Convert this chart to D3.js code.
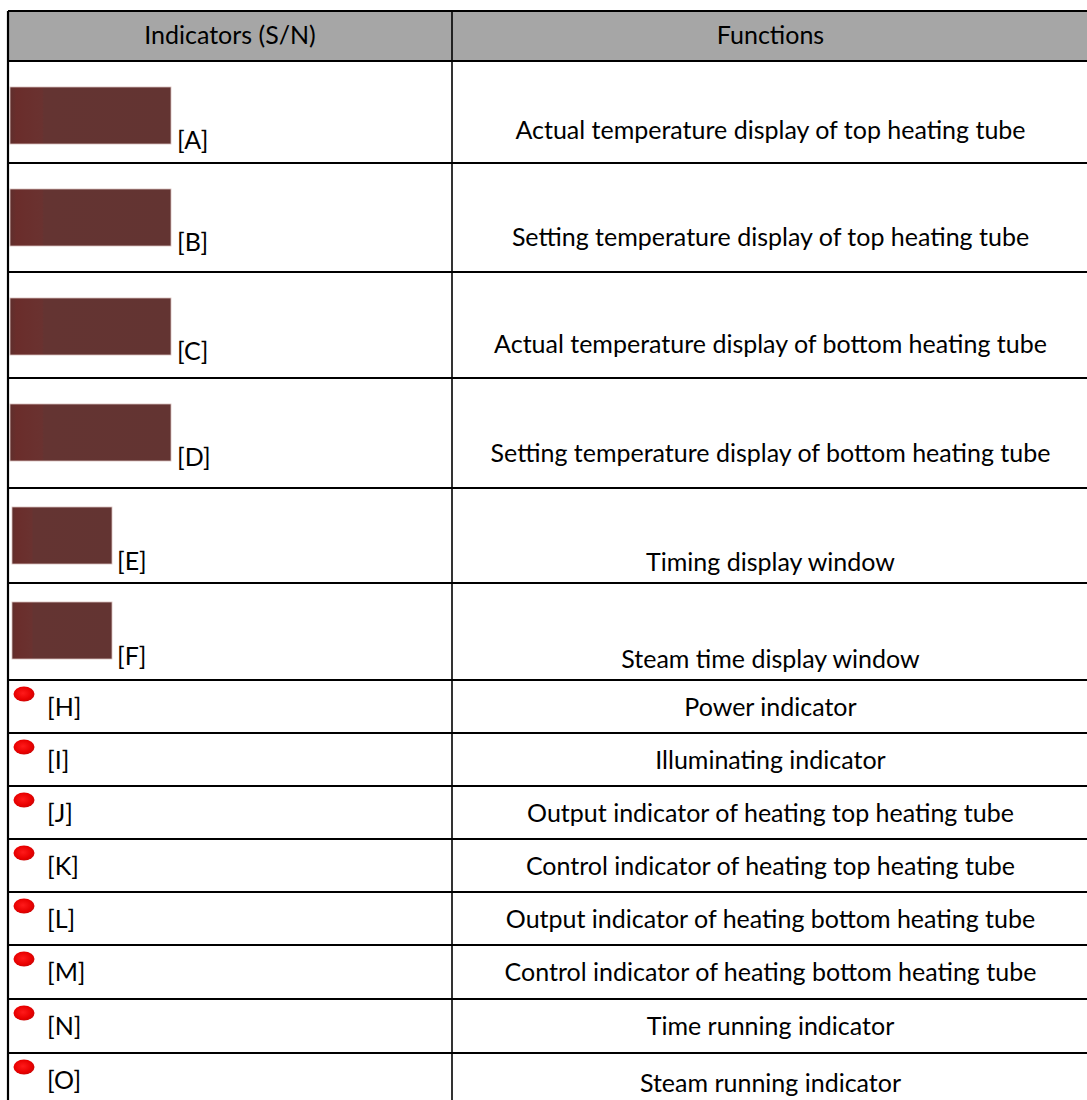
<!DOCTYPE html>
<html>
<head>
<meta charset="utf-8">
<script src="https://cdn.jsdelivr.net/npm/d3@7"></script>
<style>
  body { margin: 0; background: #fff; }
  svg { display: block; }
  text { font-family: Lato, "Open Sans", sans-serif; fill: #000; }
</style>
</head>
<body>
<svg id="tbl" width="1087" height="1100"></svg>
<script>
// indicator table — two columns, display windows + lamps

const headers = ['Indicators (S/N)', 'Functions'];
const codes = ['A', 'B', 'C', 'D', 'E', 'F', 'H', 'I', 'J', 'K', 'L', 'M', 'N', 'O'];
const kinds = ['wide', 'wide', 'wide', 'wide', 'narrow', 'narrow',
  'lamp', 'lamp', 'lamp', 'lamp', 'lamp', 'lamp', 'lamp', 'lamp'];
const functions = [
  'Actual temperature display of top heating tube',
  'Setting temperature display of top heating tube',
  'Actual temperature display of bottom heating tube',
  'Setting temperature display of bottom heating tube',
  'Timing display window',
  'Steam time display window',
  'Power indicator',
  'Illuminating indicator',
  'Output indicator of heating top heating tube',
  'Control indicator of heating top heating tube',
  'Output indicator of heating bottom heating tube',
  'Control indicator of heating bottom heating tube',
  'Time running indicator',
  'Steam running indicator'
];

// layout
const W = 1087, H = 1100;
const LEFT = 8, DIV = 452, TOP = 11, HEAD_H = 50;
const rowH = [102, 109, 106, 110, 95, 97, 53, 53, 53, 53, 53, 54, 54, 60];
const FS = 25;

const svg = d3.select('#tbl');

const rows = codes.map((c, i) => ({ code: c, kind: kinds[i], fn: functions[i], h: rowH[i] }));
let acc = TOP + HEAD_H;
rows.forEach(r => { r.y0 = acc; acc += r.h; r.y1 = acc; });

const x = d3.scaleOrdinal().domain(headers).range([(LEFT + DIV) / 2, (DIV + W) / 2 + 1]);

// red lamp + display gradients
const defs = svg.append('defs');
const rg = defs.append('radialGradient').attr('id', 'lamp').attr('cx', '45%').attr('cy', '45%').attr('r', '60%');
rg.append('stop').attr('offset', '0%').attr('stop-color', '#ff1a1a');
rg.append('stop').attr('offset', '70%').attr('stop-color', '#e80000');
rg.append('stop').attr('offset', '100%').attr('stop-color', '#c40808');
const dg = defs.append('linearGradient').attr('id', 'disp');
dg.append('stop').attr('offset', '0%').attr('stop-color', '#5e2f2d');
dg.append('stop').attr('offset', '4%').attr('stop-color', '#6a2d2b');
dg.append('stop').attr('offset', '20%').attr('stop-color', '#6a3230');
dg.append('stop').attr('offset', '21%').attr('stop-color', '#643432');
dg.append('stop').attr('offset', '100%').attr('stop-color', '#633432');

// header
svg.append('rect')
  .attr('x', LEFT).attr('y', TOP).attr('width', W - LEFT).attr('height', HEAD_H)
  .attr('fill', '#a6a6a6');
svg.append('g').selectAll('text')
  .data(headers)
  .join('text')
  .attr('x', d => x(d))
  .attr('y', TOP + 33)
  .attr('text-anchor', 'middle')
  .attr('font-size', FS)
  .text(d => d);

// rows
const row = svg.append('g').selectAll('g')
  .data(rows)
  .join('g')
  .attr('transform', d => `translate(0,${d.y0})`);

row.filter(d => d.kind !== 'lamp').append('rect')
  .attr('x', d => d.kind === 'wide' ? 10 : 12)
  .attr('y', d => d.kind === 'wide' ? 26 : 19)
  .attr('width', d => d.kind === 'wide' ? 161 : 100)
  .attr('height', 57)
  .attr('fill', 'url(#disp)')
  .attr('stroke', '#d8bfbc').attr('stroke-width', 0.8);

row.filter(d => d.kind === 'lamp').append('ellipse')
  .attr('cx', 24).attr('cy', 14)
  .attr('rx', 10.5).attr('ry', 7.5)
  .attr('fill', 'url(#lamp)');

// code labels
row.append('text')
  .attr('x', d => d.kind === 'wide' ? 177 : d.kind === 'narrow' ? 117 : 47)
  .attr('y', d => d.kind === 'wide' ? 88 : d.kind === 'narrow' ? 82 : 36)
  .attr('font-size', FS)
  .text(d => `[${d.code}]`);

// function text
row.append('text')
  .attr('x', x(headers[1]))
  .attr('y', d => d.kind === 'lamp' ? d.h / 2 + 9
    : d.kind === 'wide' ? d.h * 0.68 + 9 : d.h * 0.78 + 9)
  .attr('text-anchor', 'middle')
  .attr('font-size', FS)
  .text(d => d.fn);

// grid lines
const hLines = [TOP, TOP + HEAD_H, ...rows.slice(0, -1).map(r => r.y1)];
svg.append('g').selectAll('line')
  .data(hLines)
  .join('line')
  .attr('x1', LEFT).attr('x2', W)
  .attr('y1', d => d).attr('y2', d => d)
  .attr('stroke', '#000').attr('stroke-width', 2.2);

svg.append('line')
  .attr('x1', LEFT).attr('x2', LEFT).attr('y1', TOP).attr('y2', H)
  .attr('stroke', '#000').attr('stroke-width', 2.2);
svg.append('line')
  .attr('x1', DIV).attr('x2', DIV).attr('y1', TOP).attr('y2', H)
  .attr('stroke', '#000').attr('stroke-width', 1.6);
</script>
</body>
</html>
